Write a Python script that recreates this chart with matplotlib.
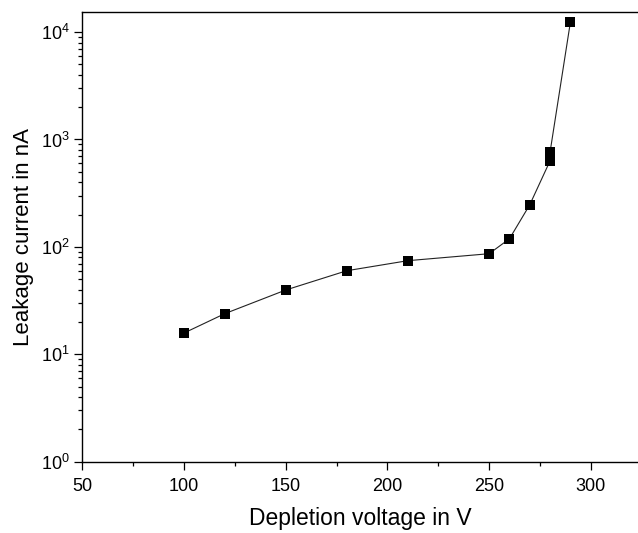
import matplotlib
matplotlib.use("Agg")
import matplotlib.pyplot as plt
from matplotlib.ticker import LogLocator, MultipleLocator, NullFormatter

plt.rcParams['font.family'] = ['Liberation Sans', 'DejaVu Sans']
plt.rcParams['mathtext.fontset'] = 'custom'
plt.rcParams['mathtext.rm'] = 'Liberation Sans'

voltage = [100, 120, 150, 180, 210, 250, 260, 270, 280, 280, 290]
current = [15.8, 23.9, 39.7, 60, 74.4, 86.4, 119, 247, 635, 770, 12500]

xlabel = "Depletion voltage in V"
ylabel = "Leakage current in nA"

fig = plt.figure(figsize=(6.38, 5.33), dpi=100)
ax = fig.add_axes([0.1293, 0.1338, 0.870, 0.8432])

ax.plot(voltage, current, color='#222222', lw=0.8, marker='s', ms=7.3,
        mfc='black', mec='black', mew=0)

ax.set_yscale('log')
ax.set_xlim(50, 323)
ax.set_ylim(1, 15300)

ax.xaxis.set_major_locator(MultipleLocator(50))
ax.xaxis.set_minor_locator(MultipleLocator(25))
ax.yaxis.set_major_locator(LogLocator(base=10, numticks=10))
ax.yaxis.set_minor_locator(LogLocator(base=10, subs=range(2, 10), numticks=20))
ax.yaxis.set_minor_formatter(NullFormatter())

ax.spines['right'].set_visible(False)
for s in ['left', 'bottom', 'top']:
    ax.spines[s].set_linewidth(1.0)

ax.tick_params(which='major', direction='out', length=6, width=0.9, labelsize=13)
ax.tick_params(axis='x', which='major', pad=5.5)
ax.tick_params(axis='y', which='major', pad=3.5)
ax.tick_params(which='minor', direction='out', length=3, width=0.9)
ax.tick_params(top=False, right=False)

ax.set_xlabel(xlabel, fontsize=16.5, labelpad=9)
ax.set_ylabel(ylabel, fontsize=16, labelpad=5)

fig.savefig("out.png", dpi=100)
